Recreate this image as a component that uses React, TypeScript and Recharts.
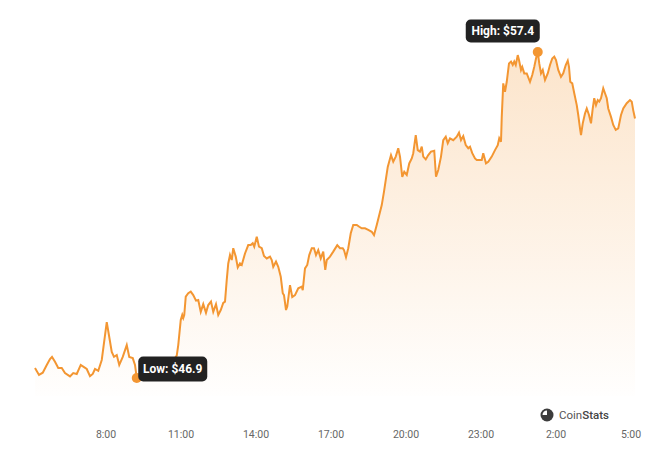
import React from 'react';
import { AreaChart, Area, XAxis, YAxis, ReferenceDot } from 'recharts';

// time in hours since midnight of the first day (values > 24 are the next day)
const hours: number[] = [
  5.16, 5.32, 5.47, 5.63, 5.76, 5.84, 5.96, 6.09, 6.23, 6.36,
  6.56, 6.69, 6.83, 6.99, 7.12, 7.23, 7.36, 7.47, 7.56, 7.69,
  7.83, 7.92, 8.03, 8.13, 8.23, 8.32, 8.43, 8.53, 8.67, 8.83,
  8.93, 9.07, 9.16, 9.23,
  9.56, 9.96, 10.36, 10.64, 10.83, 10.89, 10.99, 11.05, 11.09, 11.13,
  11.19, 11.29, 11.39, 11.49, 11.60, 11.69, 11.79, 11.89, 12.00, 12.09,
  12.20, 12.29, 12.40, 12.49, 12.59, 12.69, 12.76, 12.83, 12.89, 12.96,
  13.03, 13.09, 13.19, 13.27, 13.36, 13.43, 13.56, 13.69, 13.79, 13.87,
  13.93, 14.03, 14.12, 14.23, 14.32, 14.43, 14.56,
  14.63, 14.69, 14.80, 14.89, 14.99, 15.07, 15.12, 15.20, 15.25, 15.36,
  15.45, 15.56, 15.69, 15.83, 15.87, 15.96, 16.05, 16.13, 16.23, 16.32,
  16.40, 16.49, 16.59, 16.69, 16.77, 16.83, 16.96, 17.09, 17.25, 17.36,
  17.47, 17.52, 17.60, 17.69, 17.79, 17.89, 18.03, 18.13, 18.23, 18.36,
  18.49, 18.63, 18.72, 18.83, 18.93, 19.03, 19.12, 19.20,
  19.27, 19.40, 19.49, 19.59, 19.69, 19.76, 19.85, 19.93, 20.03, 20.13,
  20.23, 20.29, 20.39, 20.47, 20.56, 20.63, 20.69, 20.79, 20.89, 21.00,
  21.13, 21.20, 21.29, 21.40, 21.49, 21.59, 21.67, 21.76, 21.89, 22.03,
  22.12, 22.20, 22.29, 22.39, 22.49, 22.56, 22.65, 22.76, 22.83, 22.92,
  23.03, 23.09, 23.20, 23.29, 23.43, 23.56, 23.67, 23.73, 23.80,
  23.83, 23.89, 23.96, 24.03, 24.12, 24.20, 24.27, 24.33, 24.39, 24.47,
  24.52, 24.60, 24.65, 24.73, 24.83, 24.96, 25.05, 25.13, 25.20, 25.27,
  25.33, 25.40, 25.47, 25.56, 25.67, 25.76, 25.85, 25.93, 26.00, 26.09,
  26.20, 26.29, 26.39, 26.47, 26.52, 26.57, 26.65, 26.73, 26.83, 26.89,
  26.96, 27.00, 27.07, 27.16, 27.23, 27.32, 27.40, 27.47, 27.53, 27.60,
  27.67, 27.73, 27.80, 27.89, 27.96, 28.03, 28.09, 28.20, 28.29, 28.39,
  28.49, 28.60, 28.69, 28.83, 28.96, 29.03, 29.09, 29.16,
];

const prices: number[] = [
  47.22, 47.00, 47.07, 47.32, 47.51, 47.58, 47.42, 47.22, 47.22, 47.06,
  46.95, 47.06, 47.03, 47.32, 47.25, 47.19, 46.96, 47.03, 47.19, 47.13,
  47.48, 48.03, 48.70, 48.22, 47.74, 47.58, 47.64, 47.32, 47.58, 47.96,
  47.58, 47.54, 47.32, 46.90,
  47.09, 47.22, 47.29, 47.42, 47.62, 47.96, 48.77, 48.93, 48.83, 48.93,
  49.52, 49.63, 49.68, 49.57, 49.39, 49.41, 49.03, 49.28, 49.00, 49.25,
  49.36, 49.03, 49.28, 48.93, 49.09, 49.32, 49.36, 50.06, 50.59, 50.86,
  50.70, 51.08, 50.81, 50.46, 50.59, 50.54, 50.91, 51.18, 51.18, 51.24,
  51.13, 51.45, 51.13, 51.08, 50.83, 50.75, 50.81,
  50.70, 50.48, 50.65, 50.48, 50.16, 49.63, 49.57, 49.09, 49.20, 49.89,
  49.51, 49.57, 49.79, 49.84, 49.73, 50.43, 50.54, 50.86, 51.08, 51.08,
  50.86, 51.02, 50.75, 50.97, 50.38, 50.70, 50.81, 50.97, 51.18, 51.08,
  51.08, 51.02, 50.79, 51.08, 51.56, 51.83, 51.83, 51.77, 51.72, 51.72,
  51.67, 51.61, 51.50, 51.83, 52.15, 52.47, 52.90, 53.33,
  53.70, 54.08, 53.87, 54.03, 54.30, 54.03, 53.38, 53.54, 53.44, 53.81,
  53.97, 54.14, 54.72, 54.24, 54.19, 54.35, 54.03, 53.94, 54.08, 54.19,
  54.22, 53.38, 53.60, 54.03, 54.56, 54.67, 54.46, 54.62, 54.56, 54.67,
  54.80, 54.56, 54.69, 54.40, 54.30, 54.35, 54.14, 53.97, 53.92, 53.92,
  53.92, 54.14, 53.81, 53.86, 54.03, 54.24, 54.40, 54.62, 54.51,
  55.31, 56.39, 56.12, 56.44, 57.03, 57.09, 56.98, 57.09, 56.98, 57.30,
  57.14, 56.82, 56.92, 56.71, 56.71, 56.44, 56.66, 56.92, 57.19, 57.40,
  57.03, 56.71, 56.82, 56.50, 56.71, 56.98, 57.19, 57.25, 57.14, 56.82,
  56.60, 56.71, 56.98, 57.12, 56.92, 56.44, 56.39, 56.07, 55.69, 55.37,
  54.94, 54.72, 55.10, 55.42, 55.58, 55.37, 55.10, 55.58, 55.91, 55.69,
  55.85, 55.80, 55.91, 56.23, 56.07, 55.91, 55.58, 55.31, 55.05, 54.89,
  54.94, 55.37, 55.58, 55.75, 55.85, 55.80, 55.52, 55.26,
];

const tickHours: number[] = [8, 11, 14, 17, 20, 23, 26, 29];
const xDomain: [number, number] = [5.16, 29.16];
const yDomain: [number, number] = [46.32, 58.43];

const data = hours.map((t, i) => ({ t, price: prices[i] }));

let hiIdx = 0;
let loIdx = 0;
prices.forEach((p, i) => {
  if (p > prices[hiIdx]) hiIdx = i;
  if (p < prices[loIdx]) loIdx = i;
});

const ORANGE = '#f39632';

const HighShape = (props: any) => {
  const { cx, cy } = props;
  return (
    <g>
      <circle cx={cx} cy={cy} r={5} fill={ORANGE} />
      <rect x={cx - 72} y={cy - 32.5} width={74} height={23} rx={5} fill="#222222" />
      <text x={cx - 35} y={cy - 21} textAnchor="middle" dominantBaseline="central"
        fill="#ffffff" fontSize={12} fontWeight={700} fontFamily="Roboto">
        {`High: $${prices[hiIdx].toFixed(1)}`}
      </text>
    </g>
  );
};

const LowShape = (props: any) => {
  const { cx, cy } = props;
  return (
    <g>
      <circle cx={cx} cy={cy} r={5} fill={ORANGE} />
      <rect x={cx + 1.5} y={cy - 21.5} width={69} height={25} rx={5} fill="#222222" />
      <text x={cx + 36} y={cy - 9} textAnchor="middle" dominantBaseline="central"
        fill="#ffffff" fontSize={12} fontWeight={700} fontFamily="Roboto">
        {`Low: $${prices[loIdx].toFixed(1)}`}
      </text>
    </g>
  );
};

export default function App() {
  return (
    <div style={{ position: 'absolute', left: 0, top: 0, width: 660, height: 451, background: '#fff', fontFamily: 'Roboto' }}>
      <AreaChart width={660} height={451} data={data} margin={{ top: 20, right: 25, bottom: 0, left: 35 }}>
        <defs>
          <linearGradient id="fillGrad" x1="0" y1="0" x2="0" y2="1">
            <stop offset="0%" stopColor={ORANGE} stopOpacity={0.42} />
            <stop offset="55%" stopColor={ORANGE} stopOpacity={0.2} />
            <stop offset="100%" stopColor={ORANGE} stopOpacity={0.01} />
          </linearGradient>
        </defs>
        <XAxis
          dataKey="t"
          type="number"
          domain={xDomain}
          ticks={tickHours}
          interval={0}
          tickFormatter={(h: number) => `${h % 24}:00`}
          axisLine={false}
          tickLine={false}
          height={55}
          tickMargin={29}
          tick={{ fill: '#666666', fontSize: 10.5, fontFamily: 'Roboto' }}
        />
        <YAxis hide type="number" domain={yDomain} />
        <Area
          type="linear"
          dataKey="price"
          stroke={ORANGE}
          strokeWidth={2}
          fill="url(#fillGrad)"
          isAnimationActive={false}
          dot={false}
          activeDot={false}
        />
        <ReferenceDot x={hours[hiIdx]} y={prices[hiIdx]} shape={HighShape} />
        <ReferenceDot x={hours[loIdx]} y={prices[loIdx]} shape={LowShape} />
      </AreaChart>
      <div style={{ position: 'absolute', left: 540, top: 406, display: 'flex', alignItems: 'center', height: 18 }}>
        <svg width={14} height={14} viewBox="0 0 14 14" style={{ marginRight: 5 }}>
          <circle cx={7} cy={7} r={6.5} fill="#3c3c3c" />
          <path d="M7 7 L7 2.5 A4.5 4.5 0 0 0 2.5 7 Z" fill="#ffffff" />
        </svg>
        <span style={{ fontFamily: 'Roboto', fontSize: 11.5, color: '#555555' }}>
          Coin<span style={{ fontWeight: 500, color: '#444444' }}>Stats</span>
        </span>
      </div>
    </div>
  );
}
